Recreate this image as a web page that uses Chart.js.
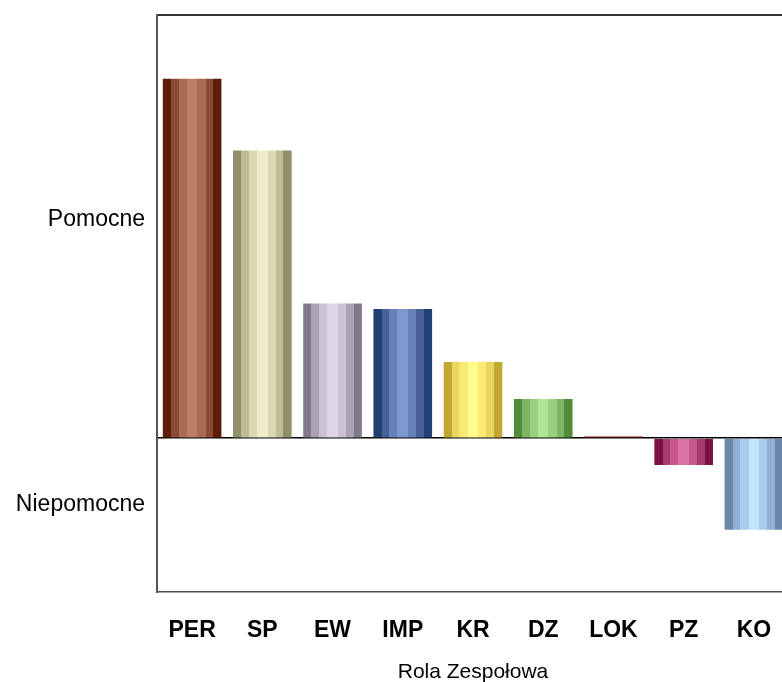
<!DOCTYPE html>
<html>
<head>
<meta charset="utf-8">
<script src="https://cdn.jsdelivr.net/npm/chart.js"></script>
<style>
  html, body { margin: 0; padding: 0; background: #fff; overflow: hidden; }
  #wrap { width: 790px; height: 690px; }
  #roles { display: block; width: 790px; height: 690px; }
</style>
</head>
<body>
<div id="wrap"><canvas id="roles" width="790" height="690"></canvas></div>
<script>
// --------------------------
// Data
// --------------------------
const categories = ['PER', 'SP', 'EW', 'IMP', 'KR', 'DZ', 'LOK', 'PZ', 'KO'];
const scores = [0.467, 0.374, 0.175, 0.168, 0.099, 0.051, 0.002, -0.035, -0.119];
const yTickValues = [0.284, -0.087];
const yTickLabels = ['Pomocne', 'Niepomocne'];
const yMin = -0.2;
const yMax = 0.55;

// stripe colours per bar: dark, mid-dark, mid, light
const palettes = [
  ['#5e1d0b', '#8a4a33', '#a86c55', '#b97d69'],
  ['#918e68', '#bebb97', '#dad7b4', '#f0ecca'],
  ['#817889', '#aaa1b4', '#cac1d2', '#ddd5e6'],
  ['#223f74', '#485f97', '#6681b9', '#7d98cd'],
  ['#c0a833', '#e8d65e', '#f8ea73', '#fffb8d'],
  ['#528b39', '#7cb563', '#99cf7e', '#b2e597'],
  ['#7a1a10', '#7a1a10', '#7a1a10', '#7a1a10'],
  ['#7b1042', '#a6386b', '#c7578c', '#dc73a5'],
  ['#6c88a8', '#90b0d4', '#abcbee', '#c5e5fc']
];

const BAR_PCT = 0.835;
const bands = [[0, 0.14, 0], [0.14, 0.27, 1], [0.27, 0.41, 2], [0.41, 0.59, 3],
               [0.59, 0.73, 2], [0.73, 0.86, 1], [0.86, 1, 0]];

// cylinder look: hard vertical stripes across each bar
function stripes(context) {
  const chart = context.chart;
  const pal = palettes[context.dataIndex];
  const xs = chart.scales.x;
  if (!chart.chartArea || !xs) return pal[3];
  const slot = xs.width / categories.length;
  const cx = xs.getPixelForValue(context.dataIndex);
  const half = slot * BAR_PCT / 2;
  const g = chart.ctx.createLinearGradient(cx - half, 0, cx + half, 0);
  bands.forEach(([a, b, c]) => {
    g.addColorStop(a, pal[c]);
    g.addColorStop(Math.max(a, b - 0.001), pal[c]);
  });
  return g;
}

// --------------------------
// Chart
// --------------------------
const ctx = document.getElementById('roles').getContext('2d');
new Chart(ctx, {
  type: 'bar',
  data: {
    labels: categories,
    datasets: [{
      data: scores,
      backgroundColor: stripes,
      borderWidth: 0,
      barPercentage: BAR_PCT,
      categoryPercentage: 1
    }]
  },
  options: {
    responsive: false,
    animation: false,
    layout: { padding: { top: 15, left: 0, right: 1, bottom: 0 } },
    plugins: { legend: { display: false }, tooltip: { enabled: false } },
    scales: {
      x: {
        grid: { display: false, drawTicks: false },
        border: { display: true, color: '#4a4a4a', width: 1.5 },
        ticks: {
          color: '#000',
          padding: 25,
          font: { family: 'Liberation Sans, Arial', size: 23, weight: 'bold' }
        },
        title: {
          display: true,
          text: 'Rola Zespołowa',
          color: '#000',
          padding: { top: 4, bottom: 5 },
          font: { family: 'Liberation Sans, Arial', size: 21 }
        },
        afterFit: (scale) => {
          scale.height = 98;
          scale.paddingLeft = 0;
          scale.paddingRight = 0;
        }
      },
      y: {
        min: yMin,
        max: yMax,
        z: 1, // zero line on top of the bars
        afterBuildTicks: (scale) => {
          scale.ticks = [yMin, yTickValues[1], 0, yTickValues[0], yMax].map(v => ({ value: v }));
        },
        grid: {
          drawTicks: false,
          color: (c) => c.tick.value === 0 ? '#000' : (c.tick.value === yMax ? '#333' : 'rgba(0,0,0,0)'),
          lineWidth: (c) => c.tick.value === 0 ? 1.5 : 2
        },
        border: { display: true, color: '#555', width: 2 },
        ticks: {
          color: '#000',
          padding: 12,
          autoSkip: false,
          font: { family: 'Liberation Sans, Arial', size: 23 },
          callback: (v) => {
            const i = yTickValues.indexOf(v);
            return i >= 0 ? yTickLabels[i] : '';
          }
        },
        afterFit: (scale) => {
          scale.width = 157;
          scale.paddingTop = 0;
          scale.paddingBottom = 0;
        }
      }
    }
  }
});
</script>
</body>
</html>
